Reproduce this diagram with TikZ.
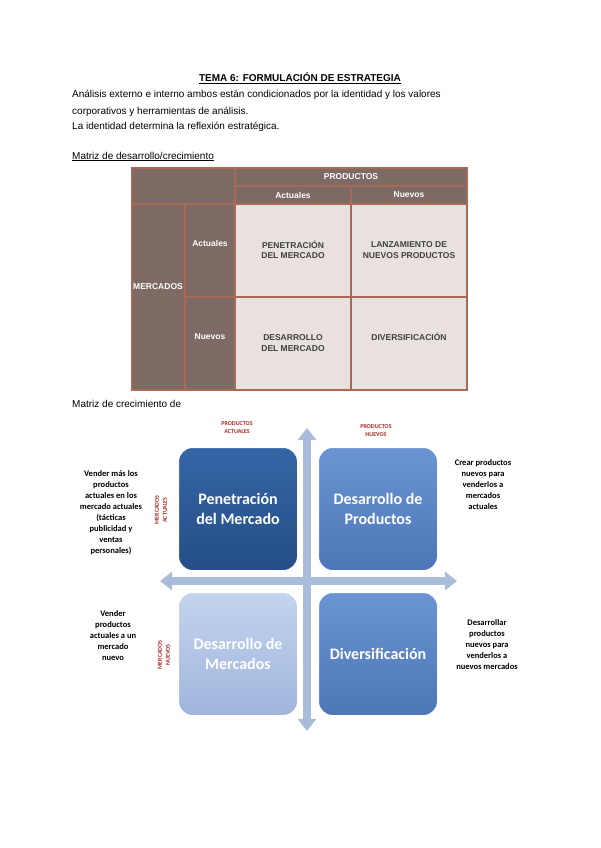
\documentclass[tikz,border=0pt]{standalone}
\usepackage{fontspec}
\setmainfont{Liberation Sans}
\newfontfamily\calfont{Carlito}
\usetikzlibrary{arrows.meta}
\definecolor{brn}{HTML}{7D6A64}
\definecolor{cel}{HTML}{E8E1DF}
\definecolor{lin}{HTML}{A86A55}
\definecolor{arr}{HTML}{A9BDDA}
\definecolor{redl}{HTML}{B02828}
\definecolor{qa1}{HTML}{3566A6}\definecolor{qa2}{HTML}{244D86}
\definecolor{qb1}{HTML}{6A94D2}\definecolor{qb2}{HTML}{4C76B6}
\definecolor{qc1}{HTML}{C4D4EE}\definecolor{qc2}{HTML}{9FB5DC}
\begin{document}
\begin{tikzpicture}[x=1pt,y=-1pt,
 body/.style={anchor=base west,font=\fontsize{10}{12}\selectfont,inner sep=0},
 thead/.style={text=white,font=\fontsize{8.5}{10}\selectfont\bfseries},
 tin/.style={text=black!75,font=\fontsize{8.5}{10.5}\selectfont\bfseries,align=center},
 quad/.style={rounded corners=14pt,minimum width=119pt,minimum height=123pt,draw=white,line width=1pt,anchor=north west,text=white,font=\calfont\fontsize{16}{20}\selectfont\bfseries,align=center},
 side/.style={font=\calfont\fontsize{8.5}{11}\selectfont\bfseries,align=center},
 redt/.style={text=redl,font=\calfont\fontsize{6}{8}\selectfont\bfseries,align=center},
 axis/.style={arr,line width=8pt,{Triangle[width=18pt,length=12pt]}-{Triangle[width=18pt,length=12pt]}}]
\useasboundingbox[fill=white] (0,0) rectangle (600,848);
\node[body,anchor=base,font=\fontsize{10}{12}\selectfont\bfseries] (t) at (300,82) {\underline{TEMA 6: FORMULACIÓN DE ESTRATEGIA}};
\node[body] (l1) at (72,98) {Análisis externo e interno ambos están condicionados por la identidad y los valores};
\node[body] (l2) at (72,114) {corporativos y herramientas de análisis.};
\node[body] (l3) at (72,130) {La identidad determina la reflexión estratégica.};
\node[body] (l4) at (72,159) {\underline{Matriz de desarrollo/crecimiento}};
\node[body] (l5) at (72,407) {Matriz de crecimiento de};
% table
\fill[brn] (132,168) rectangle (467,390);
\fill[cel] (235,204) rectangle (467,390);
\draw[lin,line width=1.2pt] (132,168) rectangle (467,390);
\draw[lin,line width=1.2pt] (235,168)--(235,390) (351,186)--(351,390) (235,186)--(467,186) (132,204)--(467,204) (185,204)--(185,390) (185,297)--(467,297);
\node[thead] (pr) at (351,177) {PRODUCTOS};
\node[thead] (pa) at (293,195) {Actuales};
\node[thead] (pn) at (409,195) {Nuevos};
\node[thead] (me) at (158,287) {MERCADOS};
\node[thead] (ma) at (210,243) {Actuales};
\node[thead] (mn) at (210,337) {Nuevos};
\node[tin] (c1) at (293,250) {PENETRACIÓN\\DEL MERCADO};
\node[tin] (c2) at (409,250) {LANZAMIENTO DE\\NUEVOS PRODUCTOS};
\node[tin] (c3) at (293,343) {DESARROLLO\\DEL MERCADO};
\node[tin] (c4) at (409,337) {DIVERSIFICACIÓN};
% growth matrix
\coordinate (vt) at (307,428); \coordinate (vb) at (307,731);
\coordinate (hl) at (160,581); \coordinate (hr) at (457,581);
\draw[axis] (vb)--(vt);
\draw[axis] (hl)--(hr);
\node[quad,top color=qa1,bottom color=qa2] (q1) at (178,447) {Penetración\\del Mercado};
\node[quad,top color=qb1,bottom color=qb2] (q2) at (318,447) {Desarrollo de\\Productos};
\node[quad,top color=qc1,bottom color=qc2] (q3) at (178,592) {Desarrollo de\\Mercados};
\node[quad,top color=qb1,bottom color=qb2] (q4) at (318,592) {Diversificación};
\node[redt] (ra) at (237,428) {PRODUCTOS\\ACTUALES};
\node[redt] (rn) at (376,431) {PRODUCTOS\\NUEVOS};
\node[redt,rotate=90] (rma) at (161,510) {MERCADOS\\ACTUALES};
\node[redt,rotate=90] (rmn) at (164,655) {MERCADOS\\NUEVOS};
\node[side] (s1) at (111,513) {Vender más los\\productos\\actuales en los\\mercado actuales\\(tácticas\\publicidad y\\ventas\\personales)};
\node[side] (s2) at (483,485) {Crear productos\\nuevos para\\venderlos a\\mercados\\actuales};
\node[side] (s3) at (113,636) {Vender\\productos\\actuales a un\\mercado\\nuevo};
\node[side] (s4) at (487,645) {Desarrollar\\productos\\nuevos para\\venderlos a\\nuevos mercados};
\end{tikzpicture}
\end{document}
